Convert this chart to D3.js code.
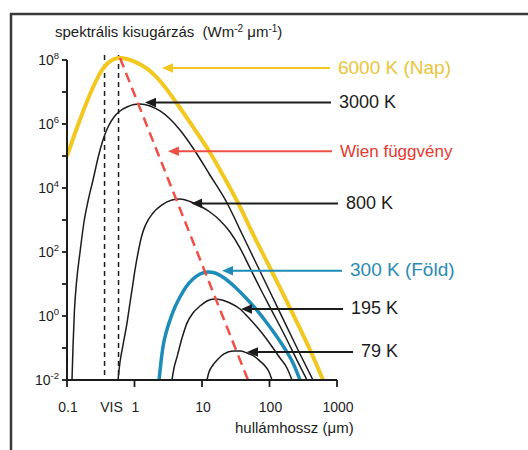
<!DOCTYPE html>
<html><head><meta charset="utf-8">
<script src="https://cdn.jsdelivr.net/npm/d3@7"></script>
<style>
html,body{margin:0;padding:0;background:#fff;}
svg{display:block;font-family:"Liberation Sans",Arial,sans-serif;}
</style></head><body>
<svg id="chart" width="528" height="450"></svg>
<script>
// ---- data (wavelength in µm, spectral radiance in W m^-2 µm^-1) ----
const xTickValues = [0.1, 1, 10, 100, 1000];
const xTickLabels = ["0.1", "1", "10", "100", "1000"];
const yTickValues = [1e-2, 1e0, 1e2, 1e4, 1e6, 1e8];
const yTickExponents = ["-2", "0", "2", "4", "6", "8"];
const yMinorTickValues = [1e-1, 1e1, 1e3, 1e5, 1e7];
const visBand = [0.36, 0.58];
const visLabel = "VIS";
const wienLine = [[0.61, 1.155e8], [48, 0.01]];

const curve6000K = [[0.1,1e5],[0.127,4.22e5],[0.161,1.66e6],[0.205,6.04e6],[0.260,1.91e7],[0.330,4.87e7],[0.405,8.06e7],[0.497,1.07e8],[0.61,1.155e8],[0.774,1.07e8],[1.017,8.7e7],[1.336,6.5e7],[1.70,4.53e7],[2.39,2.21e7],[4.26,4.37e6],[7.36,8.06e5],[13.1,1.29e5],[21.2,2.2e4],[34.2,3.4e3],[58.9,316],[102,31.6],[208,1.54],[412,0.075],[621,0.01]];
const curve3000K = [[0.1186,0.01],[0.123,0.124],[0.129,1.54],[0.138,10.7],[0.156,100],[0.1786,866],[0.205,3.93e3],[0.243,1.78e4],[0.288,8.66e4],[0.341,3.16e5],[0.405,8.06e5],[0.497,1.66e6],[0.61,2.55e6],[0.774,3.4e6],[0.983,4.06e6],[1.205,4.22e6],[1.70,3.65e6],[2.39,2.55e6],[3.36,1.43e6],[4.72,6.5e5],[7.36,1.78e5],[13.1,2.55e4],[23.5,3.4e3],[39.2,365],[65.3,39.3],[108.9,4.22],[181.7,0.45],[283,0.065],[441,0.01]];
const curve800K = [[0.570,0.01],[0.61,0.0365],[0.676,0.124],[0.774,0.60],[0.857,2.55],[0.918,6.5],[1.017,27.4],[1.127,93],[1.29,340],[1.48,750],[1.88,1.65e3],[2.55,2.95e3],[3.59,4.2e3],[4.72,4.53e3],[6.64,3.79e3],[9.34,2.74e3],[13.1,1.78e3],[18.5,965],[26.0,422],[36.6,133],[51.4,31.6],[72.3,7.5],[108.9,1.43],[169.8,0.237],[255,0.042],[359.5,0.01]];
const curve300K = [[2.31,0.01],[2.47,0.0365],[2.64,0.107],[2.93,0.294],[3.36,0.75],[3.98,1.91],[4.72,3.93],[5.79,8.06],[7.36,14.3],[9.34,20.5],[12.27,23.7],[15.6,22.1],[21.9,14.8],[30.8,8.06],[43.4,3.93],[61.0,1.78],[85.8,0.723],[120.6,0.274],[169.8,0.093],[223,0.034],[283,0.01]];
const curve195K = [[3.59,0.01],[3.85,0.0237],[4.26,0.052],[5.06,0.205],[5.99,0.60],[7.36,1.24],[9.34,2.05],[11.86,2.94],[15.06,3.4],[19.8,3.16],[26.0,2.55],[36.6,1.66],[48.0,0.93],[65.3,0.45],[85.8,0.221],[112.7,0.1],[143,0.0487],[181.7,0.0237],[215.4,0.01]];
const curve79K = [[11.86,0.01],[12.70,0.0178],[14.56,0.0294],[17.3,0.0453],[21.2,0.065],[28.8,0.0806],[36.6,0.0806],[46.4,0.0698],[58.9,0.0562],[72.3,0.039],[85.8,0.0274],[98.4,0.0178],[108.9,0.01]];

const annTexts = ["6000 K (Nap)", "3000 K", "Wien függvény", "800 K", "300 K (Föld)", "195 K", "79 K"];
const annTipLambda = [2.55, 1.43, 3.13, 6.9, 19.8, 37.8, 46.4];
const annLevel = [5.6e7, 4.7e6, 1.4e5, 3.3e3, 26, 1.66, 0.075];
const annEndLambda = [787, 815, 843, 1035, 1186, 1228, 1727];

const yTitle = "spektrális kisugárzás";
const xTitle = "hullámhossz (μm)";

// ---- styles ----
const YELLOW = "#f2c81f", YELLOW_TXT = "#e9c53a", BLUE = "#1e8cb9", BLUE_TXT = "#2a8bb5",
      RED = "#ef5046", RED_TXT = "#e4392f", INK = "#1c1c1c";
const annColors = [YELLOW, INK, RED, INK, BLUE, INK, INK];
const annTextColors = [YELLOW_TXT, INK, RED_TXT, INK, BLUE_TXT, INK, INK];
const annFont = [19, 18, 17, 18, 19, 18, 18];

const svg = d3.select("#chart");
const x = d3.scaleLog().domain([0.1, 1000]).range([67, 337]);
const y = d3.scaleLog().domain([1e-2, 1e8]).range([380, 60]);

// frame
svg.append("path").attr("d", "M11,450 L11,14 L528,14")
  .attr("fill", "none").attr("stroke", "#3a3a3a").attr("stroke-width", 2.5);

// clip
svg.append("defs").append("clipPath").attr("id", "plotclip")
  .append("rect").attr("x", 67).attr("y", 40).attr("width", 280).attr("height", 340);

const plot = svg.append("g").attr("clip-path", "url(#plotclip)");

// VIS dashed lines
plot.selectAll(".vis").data(visBand).join("line")
  .attr("x1", d => x(d)).attr("x2", d => x(d))
  .attr("y1", y(1e8) - 5).attr("y2", y(1e-2))
  .attr("stroke", INK).attr("stroke-width", 1.5).attr("stroke-dasharray", "5,4");

const line = d3.line().x(d => x(d[0])).y(d => y(d[1])).curve(d3.curveMonotoneX);

const curves = [
  {d: curve79K, c: INK, w: 1.5},
  {d: curve195K, c: INK, w: 1.5},
  {d: curve800K, c: INK, w: 1.5},
  {d: curve3000K, c: INK, w: 1.5},
  {d: curve300K, c: BLUE, w: 3.5},
  {d: curve6000K, c: YELLOW, w: 4}
];
plot.selectAll(".curve").data(curves).join("path")
  .attr("d", d => line(d.d)).attr("fill", "none")
  .attr("stroke", d => d.c).attr("stroke-width", d => d.w).attr("stroke-linejoin", "round");

// Wien line
plot.append("path").attr("d", d3.line().x(d => x(d[0])).y(d => y(d[1]))(wienLine))
  .attr("fill", "none").attr("stroke", RED).attr("stroke-width", 2.5).attr("stroke-dasharray", "10,6");

// axes
const axG = svg.append("g");
axG.append("line").attr("x1", x(0.1)).attr("x2", x(0.1)).attr("y1", y(1e8)).attr("y2", y(1e-2))
  .attr("stroke", INK).attr("stroke-width", 2);
axG.append("line").attr("x1", x(0.1)).attr("x2", x(1000)).attr("y1", y(1e-2)).attr("y2", y(1e-2))
  .attr("stroke", INK).attr("stroke-width", 2);
axG.selectAll(".yt").data(yTickValues.concat(yMinorTickValues)).join("line")
  .attr("x1", x(0.1) - 5).attr("x2", x(0.1)).attr("y1", d => y(d)).attr("y2", d => y(d))
  .attr("stroke", INK).attr("stroke-width", 1.8);
axG.selectAll(".xt").data(xTickValues).join("line")
  .attr("x1", d => x(d)).attr("x2", d => x(d)).attr("y1", y(1e-2)).attr("y2", y(1e-2) + 7)
  .attr("stroke", INK).attr("stroke-width", 1.8);

// y tick labels
yTickValues.forEach((v, i) => {
  const t = axG.append("text").attr("x", x(0.1) - 8).attr("y", y(v) + 5)
    .attr("text-anchor", "end").attr("fill", INK).attr("font-size", 14);
  t.append("tspan").text("10");
  t.append("tspan").attr("dy", -6).attr("font-size", 9.5).text(yTickExponents[i]);
});
// x tick labels
axG.selectAll(".xl").data(xTickValues).join("text")
  .attr("x", d => x(d) + 1).attr("y", 412).attr("text-anchor", "middle")
  .attr("fill", INK).attr("font-size", 14).text((d, i) => xTickLabels[i]);
axG.append("text").attr("x", x(Math.sqrt(visBand[0] * visBand[1]))).attr("y", 412)
  .attr("text-anchor", "middle").attr("fill", INK).attr("font-size", 14).text(visLabel);

// titles
const yt = svg.append("text").attr("x", 55).attr("y", 37).attr("fill", INK).attr("font-size", 15);
yt.append("tspan").text(yTitle + "\u00a0\u00a0(Wm");
yt.append("tspan").attr("dy", -5).attr("font-size", 10).text("-2");
yt.append("tspan").attr("dy", 5).text("\u00a0μm");
yt.append("tspan").attr("dy", -5).attr("font-size", 10).text("-1");
yt.append("tspan").attr("dy", 5).text(")");
svg.append("text").attr("x", 235).attr("y", 433).attr("fill", INK).attr("font-size", 15).text(xTitle);

// annotations
const annG = svg.append("g");
annTexts.forEach((txt, i) => {
  const ty = y(annLevel[i]), tx = x(annTipLambda[i]), ex = x(annEndLambda[i]);
  annG.append("line").attr("x1", tx + 8).attr("x2", ex).attr("y1", ty).attr("y2", ty)
    .attr("stroke", annColors[i]).attr("stroke-width", 2);
  annG.append("path").attr("d", `M${tx},${ty} L${tx + 11},${ty - 4.8} L${tx + 11},${ty + 4.8} Z`)
    .attr("fill", annColors[i]);
  annG.append("text").attr("x", ex + 8).attr("y", ty + 5.5).attr("fill", annTextColors[i])
    .attr("font-size", annFont[i]).text(txt);
});
</script>
</body></html>
